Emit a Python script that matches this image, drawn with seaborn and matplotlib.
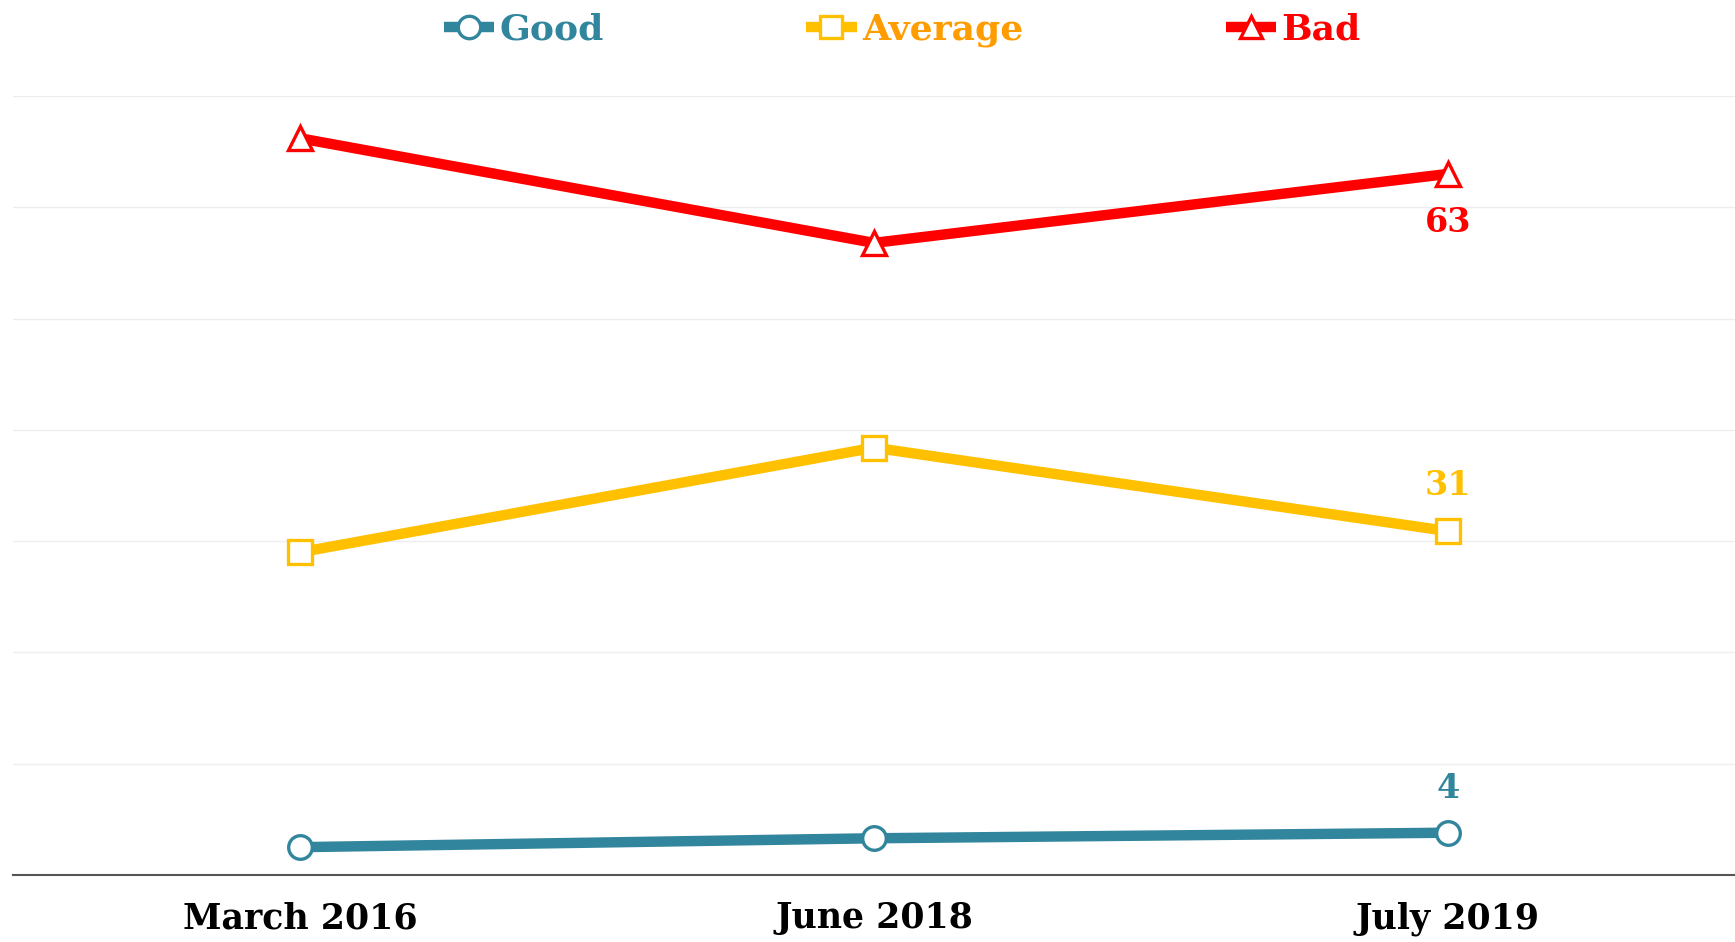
import matplotlib
matplotlib.use("Agg")
import matplotlib.pyplot as plt
import seaborn as sns

# values
dates = ["March 2016", "June 2018", "July 2019"]
good = [2.5, 3.3, 3.8]
average = [29.0, 38.4, 30.9]
bad = [66.2, 56.8, 63.0]
end_labels = ["4", "31", "63"]

c_good = "#31859C"
c_avg = "#FFC000"
c_avg_text = "#FF9C00"
c_bad = "#FF0000"

sns.set_theme(style="white")
plt.rcParams["font.family"] = ["DejaVu Serif"]
plt.rcParams["font.weight"] = "bold"

fig = plt.figure(figsize=(17.35, 9.42), dpi=100)
ax = fig.add_axes([13 / 1735, 67 / 942, 1722 / 1735, 779 / 942])

series = [
    ("Good", good, c_good, "o"),
    ("Average", average, c_avg, "s"),
    ("Bad", bad, c_bad, "^"),
]
for name, vals, col, mk in series:
    sns.lineplot(x=dates, y=vals, ax=ax, color=col, lw=7.5, marker=mk,
                 markersize=17, markerfacecolor="white", markeredgecolor=col,
                 markeredgewidth=2.4, label=name, sort=False,
                 solid_capstyle="butt")

ax.set_xlim(-0.5, 2.5)
ax.set_ylim(0, 70)
ax.set_yticks(range(10, 71, 10))
ax.set_yticklabels([])
ax.tick_params(axis="y", length=0)
ax.tick_params(axis="x", length=0, pad=19, labelsize=25)
for t in ax.get_xticklabels():
    t.set_fontweight("bold")
    t.set_color("black")
ax.grid(axis="y", color="#EEEEEE", lw=1)
ax.set_axisbelow(True)
for s in ["left", "right", "top"]:
    ax.spines[s].set_visible(False)
ax.spines["bottom"].set_color("#555555")
ax.spines["bottom"].set_linewidth(1.5)
ax.set_xlabel("")
ax.set_ylabel("")

# end labels on July 2019
ax.annotate(end_labels[0], (2, good[2]), xytext=(0, 32), textcoords="offset points",
            ha="center", va="center", color=c_good, fontsize=24, fontweight="bold")
ax.annotate(end_labels[1], (2, average[2]), xytext=(0, 33), textcoords="offset points",
            ha="center", va="center", color=c_avg, fontsize=24, fontweight="bold")
ax.annotate(end_labels[2], (2, bad[2]), xytext=(0, -35), textcoords="offset points",
            ha="center", va="center", color=c_bad, fontsize=24, fontweight="bold")

ax.get_legend().remove()
handles, labels = ax.get_legend_handles_labels()
leg = fig.legend(handles, labels, loc="center", bbox_to_anchor=(0.52, 0.968),
                 ncol=3, frameon=False, fontsize=26, handlelength=1.4,
                 handletextpad=0.15, columnspacing=5.6, markerscale=0.95)
for txt, col in zip(leg.get_texts(), [c_good, c_avg_text, c_bad]):
    txt.set_color(col)
    txt.set_fontweight("bold")

fig.savefig("out.png", dpi=100, facecolor="white")
